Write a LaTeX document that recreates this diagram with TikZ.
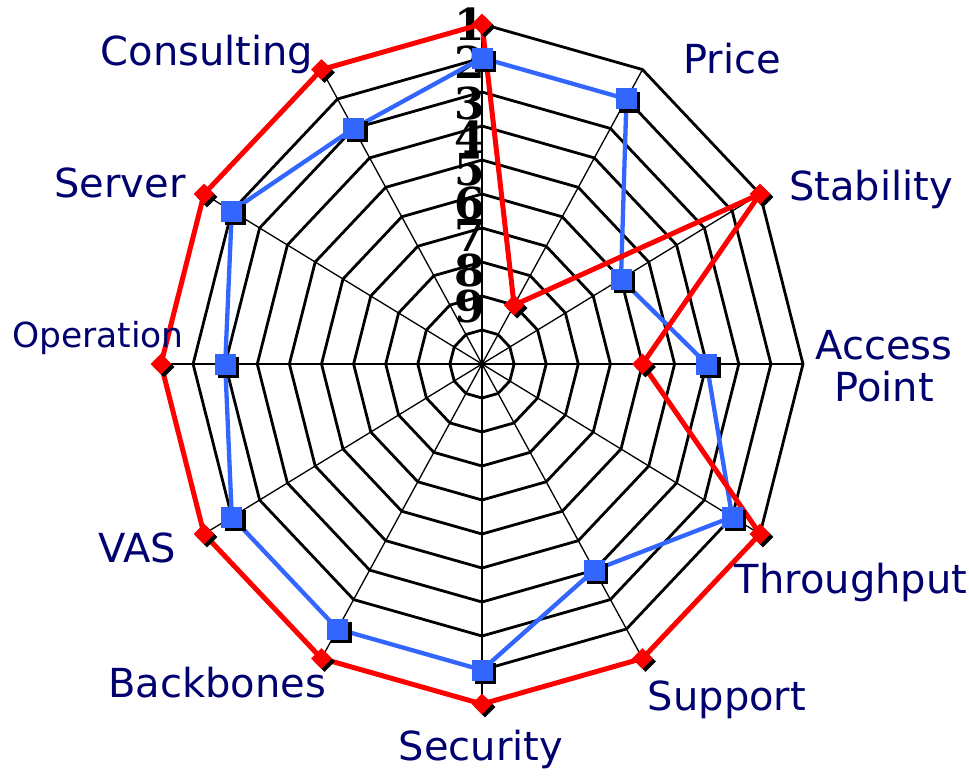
\documentclass[tikz,border=0pt]{standalone}
\usepackage{fontspec}
\usetikzlibrary{shapes.geometric}
\newfontfamily\labfont{DejaVu Sans}
\newfontfamily\numfont{DejaVu Serif}
\definecolor{navy}{RGB}{0,0,110}
\definecolor{serblue}{RGB}{51,102,255}
\definecolor{serred}{RGB}{255,0,0}
\begin{document}
\begin{tikzpicture}[x=1pt,y=-1pt,
  ring/.style={line width=2.8pt, line join=miter},
  spoke/.style={line width=1.3pt},
  catlabel/.style={font=\labfont\fontsize{40}{42}\selectfont, text=navy, anchor=base, inner sep=0pt},
  numlabel/.style={font=\numfont\bfseries\fontsize{44}{44}\selectfont, anchor=east, inner sep=0pt},
  redline/.style={serred, line width=5pt, line join=round},
  blueline/.style={serblue, line width=4.3pt, line join=round},
  reddia/.style={diamond, fill=serred, minimum width=21pt, minimum height=21pt, inner sep=0pt},
  reddiashadow/.style={diamond, fill=black, minimum width=21pt, minimum height=21pt, inner sep=0pt},
  bluesq/.style={rectangle, fill=serblue, minimum size=21pt, inner sep=0pt},
  bluesqshadow/.style={rectangle, fill=black, minimum size=21pt, inner sep=0pt}
]
\useasboundingbox[fill=white] (0,0) rectangle (969,777);
\begin{scope}[shift={(482,364)}, x=32.1pt, y=34pt]
  \foreach \r in {1,...,10}
    \draw[ring] (90:\r) \foreach \k in {1,...,11}{ -- ({90-30*\k}:\r)} -- cycle;
  \foreach \k in {0,...,11}
    \draw[spoke] (0,0) -- ({90-30*\k}:10);
  \foreach \k/\v in {0/10,1/2,2/10,3/5,4/10,5/10,6/10,7/10,8/10,9/10,10/10,11/10}
    \coordinate (r\k) at ({90-30*\k}:\v);
  \foreach \k/\v in {0/9,1/9,2/5,3/7,4/9,5/7,6/9,7/9,8/9,9/8,10/9,11/8}
    \coordinate (b\k) at ({90-30*\k}:\v);
\end{scope}
% number labels
\foreach \n/\y in {1/24,2/62,3/103,4/137,5/170,6/203,7/235,8/270,9/306}
  \node[numlabel] (n\n) at (485,\y) {\n};
% series lines
\draw[blueline] (b0) \foreach \k in {1,...,11}{ -- (b\k)} -- cycle;
\draw[redline] (r0) \foreach \k in {1,...,11}{ -- (r\k)} -- cycle;
% markers
\foreach \k in {0,...,11}{
  \node[reddiashadow] (rs\k) at ([shift={(3,3)}]r\k) {};
  \node[reddia] (rm\k) at (r\k) {};
}
\foreach \k in {0,...,11}{
  \node[bluesqshadow] (bs\k) at ([shift={(3.5,3.5)}]b\k) {};
  \node[bluesq] (bm\k) at (b\k) {};
}
% category labels
\node[catlabel] (lprice) at (732,73) {Price};
\node[catlabel] (lstab) at (871,200) {Stability};
\node[catlabel, anchor=center, align=center] (lap) at (884,366) {Access\\Point};
\node[catlabel] (lthr) at (851,593) {Throughput};
\node[catlabel] (lsup) at (727,710) {Support};
\node[catlabel] (lsec) at (481,760) {Security};
\node[catlabel] (lbb) at (217,697) {Backbones};
\node[catlabel] (lvas) at (137,562) {VAS};
\node[catlabel, font=\labfont\fontsize{34.5}{38}\selectfont] (lop) at (98,347) {Operation};
\node[catlabel] (lsrv) at (120,197) {Server};
\node[catlabel] (lcons) at (207,65) {Consulting};
\end{tikzpicture}
\end{document}
